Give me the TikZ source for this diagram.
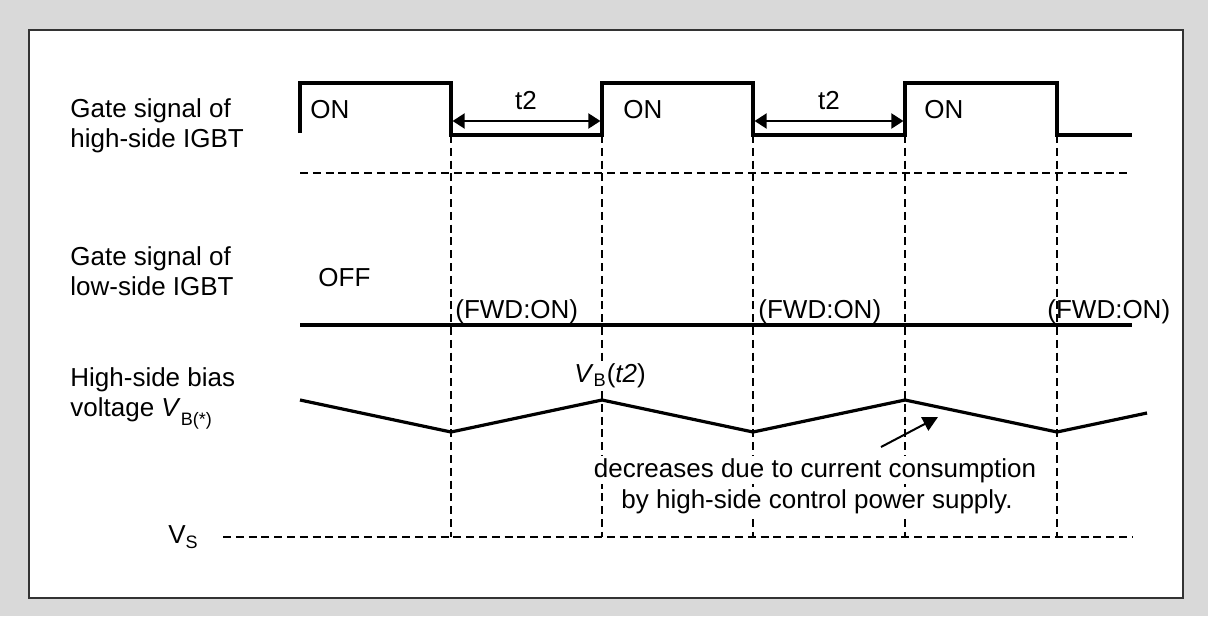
\documentclass[tikz,border=0pt]{standalone}
\usepackage{fontspec}
\setmainfont{Liberation Sans}
\usetikzlibrary{arrows.meta}
\newcommand{\lowsub}[2][2.5pt]{\raisebox{-#1}{\fontsize{9}{10}\selectfont #2}}

\begin{document}
\begin{tikzpicture}[x=0.5pt, y=-0.5pt, every node/.style={font=\fontsize{13}{15}\selectfont, inner sep=0pt}, >={Triangle[length=6pt, width=7.5pt]}, wave/.style={line width=1.6pt}, guide/.style={dash pattern=on 4pt off 2.4pt, line width=0.6pt}, lab/.style={fill=white, inner sep=1pt}, txt/.style={align=left, anchor=base west}]
	\fill[gray!30] (0,0) rectangle (1208,616);
	\draw[draw=black!80, fill=white, line width=0.8pt] (29,30) rectangle (1183,598);
	% switching instants
	\foreach \n/\x in {1/451,2/602,3/753,4/905,5/1057} {\coordinate (e\n) at (\x,135);}
	\foreach \n in {1,...,5} {\draw[guide] (e\n) -- (e\n |- 0,537);}
	\draw[guide] (300,173) -- (1128,173);
	\draw[guide] (223,537) -- (1132,537);
	% waveforms
	\draw[wave] (300,133) |- (e1 |- 0,83) |- (e2) |- (e3 |- 0,83) |- (e4) |- (e5 |- 0,83) |- (1132,135);
	\draw[wave] (300,325) -- (1132,325);
	\draw[wave] (300,400) -- (451,432) -- (602,400) -- (753,432) -- (905,400) -- (1057,432) -- (1147,413);
	\draw[<->, line width=1pt, shorten <=0.8pt, shorten >=0.8pt] (e1 |- 0,121) -- (e2 |- 0,121);
	\draw[<->, line width=1pt, shorten <=0.8pt, shorten >=0.8pt] (e3 |- 0,121) -- (e4 |- 0,121);
	\node[anchor=base] (ta) at (526,109) {t2};
	\node[anchor=base] (tb) at (829,109) {t2};
	\node[anchor=base west] (on1) at (310,118) {ON};
	\node[anchor=base west] (on2) at (623,118) {ON};
	\node[anchor=base west] (on3) at (924,118) {ON};
	\node[anchor=base west] (off) at (318,286) {OFF};
	\node[anchor=base west] (fwd1) at (455,318) {(FWD:ON)};
	\node[anchor=base west] (fwd2) at (758,318) {(FWD:ON)};
	\node[anchor=base west] (fwd3) at (1047,318) {(FWD:ON)};
	\node[lab, anchor=base] (vbt) at (610,382) {\textit{V}\textsubscript{B}(\textit{t2})};
	% row titles
	\node[txt] (hs) at (70,147) {Gate signal of\\high-side IGBT};
	\node[txt] (ls) at (70,295) {Gate signal of\\low-side IGBT};
	\node[txt] (vb) at (70,416) {High-side bias\\voltage \textit{V}\lowsub[4.5pt]{B(*)}};
	\node[anchor=base west] (vs) at (168,543) {V\lowsub{S}};
	% note
	\node[lab, anchor=base] (dec1) at (815,477) {decreases due to current consumption};
	\node[lab, anchor=base] (dec2) at (817,508) {by high-side control power supply.};
	\coordinate (tail) at (881,447);
	\coordinate (tip) at (938,417);
	\draw[-{Triangle[length=7.5pt, width=7.5pt]}, line width=1pt] (tail) -- (tip);
\end{tikzpicture}
\end{document}
